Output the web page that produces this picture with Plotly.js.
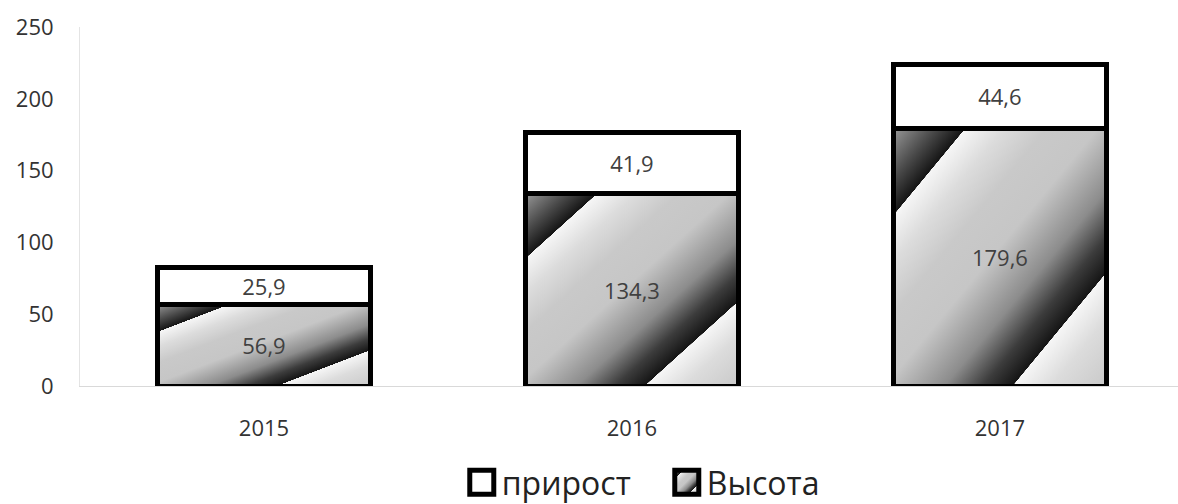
<!DOCTYPE html>
<html>
<head>
<meta charset="utf-8">
<script src="https://cdn.plot.ly/plotly-3.0.1.min.js"></script>
<style>html,body{margin:0;padding:0;background:#fff;}#chart{width:1178px;height:504px;}</style>
</head>
<body>
<div id="chart"></div>
<script>
const categories = ['2015', '2016', '2017'];
const heightValues = [56.9, 134.3, 179.6];   // Высота
const growthValues = [25.9, 41.9, 44.6];     // прирост
const seriesNames = ['Высота', 'прирост'];
const yTicks = [0, 50, 100, 150, 200, 250];

const FONT = 'Open Sans, DejaVu Sans, sans-serif';
const labelFont = {family: FONT, size: 22, color: '#404040'};

const traceHeight = {
  type: 'bar',
  name: seriesNames[0],
  x: categories,
  y: heightValues,
  texttemplate: '%{y:.1f}',
  textposition: 'inside',
  insidetextanchor: 'middle',
  textangle: 0,
  textfont: labelFont,
  marker: {color: '#c8c8c8', line: {color: '#000', width: 5}},
  hoverinfo: 'none'
};
const traceGrowth = {
  type: 'bar',
  name: seriesNames[1],
  x: categories,
  y: growthValues,
  texttemplate: '%{y:.1f}',
  textposition: 'inside',
  insidetextanchor: 'middle',
  textangle: 0,
  textfont: labelFont,
  marker: {color: '#ffffff', line: {color: '#000', width: 5}},
  hoverinfo: 'none'
};

const layout = {
  width: 1178, height: 504,
  barmode: 'stack',
  bargap: 0.42,
  separators: ', ',
  paper_bgcolor: '#fff', plot_bgcolor: '#fff',
  margin: {l: 80, r: 0, t: 27, b: 118},
  showlegend: true,
  legend: {
    orientation: 'h',
    xref: 'container', x: 0.392, xanchor: 'left',
    yref: 'container', y: 0, yanchor: 'bottom',
    traceorder: 'reversed',
    font: {family: FONT, size: 32, color: '#222'},
    itemwidth: 30,
    entrywidth: 160
  },
  xaxis: {
    type: 'category',
    range: [-0.5, 2.484],
    showline: true, linecolor: '#d9d9d9', linewidth: 1,
    showgrid: false, zeroline: false, ticks: '',
    tickfont: {family: FONT, size: 22, color: '#333'},
    ticklabelstandoff: 23
  },
  yaxis: {
    range: [0, 250],
    tickvals: yTicks,
    showline: true, linecolor: '#e4e4e4', linewidth: 1,
    showgrid: false, zeroline: false, ticks: '',
    tickfont: {family: FONT, size: 22, color: '#333'},
    ticklabelstandoff: 21
  },
  font: {family: FONT}
};

function styleChart(gd) {
  const NS = 'http://www.w3.org/2000/svg';
  const svg = gd.querySelector('svg.main-svg');
  let defs = svg.querySelector('defs');
  if (!defs) { defs = document.createElementNS(NS, 'defs'); svg.insertBefore(defs, svg.firstChild); }
  if (!svg.querySelector('#stripeGrad')) {
    const g = document.createElementNS(NS, 'linearGradient');
    g.setAttribute('id', 'stripeGrad');
    g.setAttribute('x1', '0'); g.setAttribute('y1', '0');
    g.setAttribute('x2', '1'); g.setAttribute('y2', '1');
    const stops = [
      [0, '#9a9a9a'], [0.10, '#4a4a4a'], [0.169, '#151515'], [0.17, '#f6f6f6'],
      [0.26, '#dcdcdc'], [0.36, '#c9c9c9'], [0.48, '#c6c6c6'], [0.62, '#8c8c8c'],
      [0.71, '#3c3c3c'], [0.779, '#151515'], [0.78, '#f6f6f6'], [0.87, '#dcdcdc'], [1, '#c9c9c9']
    ];
    stops.forEach(([o, c]) => {
      const s = document.createElementNS(NS, 'stop');
      s.setAttribute('offset', o); s.setAttribute('stop-color', c);
      g.appendChild(s);
    });
    defs.appendChild(g);
  }
  const traces = gd.querySelectorAll('.barlayer .trace');
  if (traces.length) {
    traces[0].querySelectorAll('.point path').forEach(p => { p.style.fill = 'url(#stripeGrad)'; });
  }
  gd.querySelectorAll('.legend .traces').forEach(t => {
    const txt = t.querySelector('.legendtext');
    const path = t.querySelector('.legendpoints path');
    if (!path) return;
    path.setAttribute('d', 'M12,12H-12V-12H12Z');
    path.style.strokeWidth = '5px';
    path.style.stroke = '#000';
    if (txt && txt.textContent === seriesNames[0]) path.style.fill = 'url(#stripeGrad)';
  });
  // nudge legend down a little to match the reference position
  const leg = gd.querySelector('g.legend');
  if (leg) {
    const tr = leg.getAttribute('transform') || '';
    const m = tr.match(/translate\(\s*([-\d.]+)[ ,]+([-\d.]+)\s*\)/);
    if (m) leg.setAttribute('transform', 'translate(' + m[1] + ',' + (parseFloat(m[2]) + 6) + ')');
  }
}

Plotly.newPlot('chart', [traceHeight, traceGrowth], layout, {displayModeBar: false, staticPlot: true})
  .then(gd => styleChart(gd));
</script>
</body>
</html>
